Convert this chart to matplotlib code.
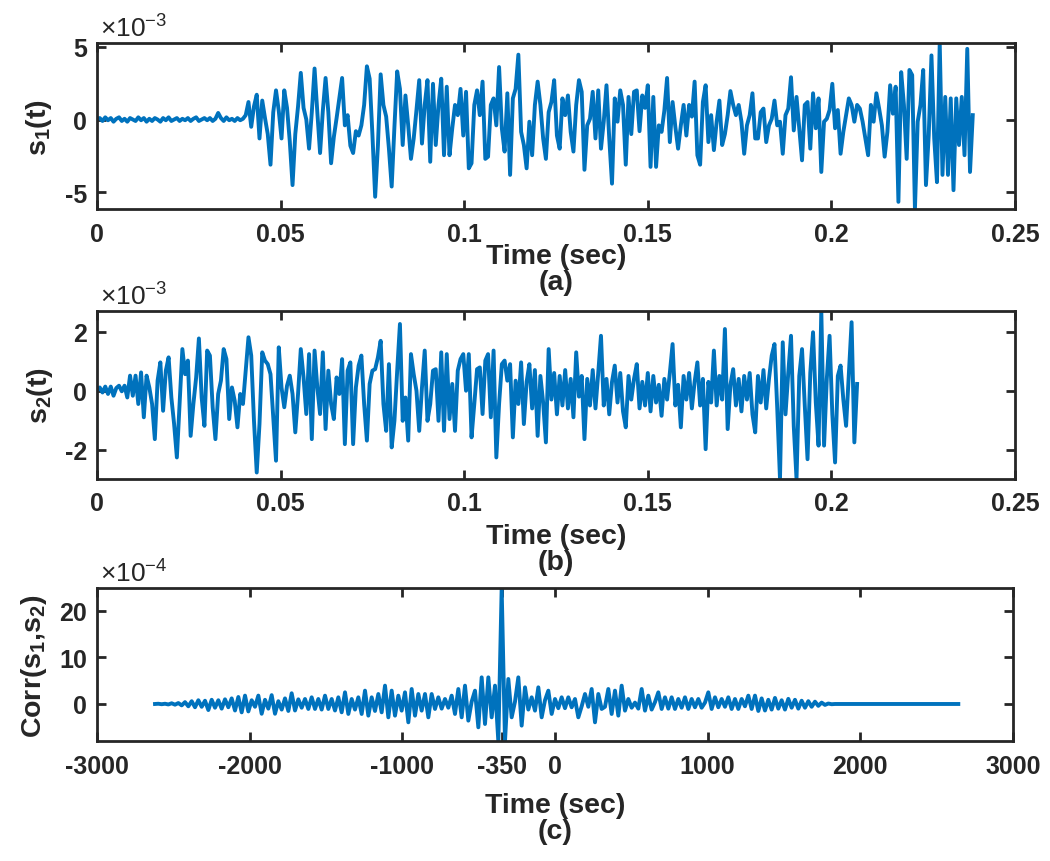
import numpy as np
import matplotlib
matplotlib.use('Agg')
import matplotlib.pyplot as plt
from matplotlib.ticker import FuncFormatter

# ---------------- data ----------------
DT = 0.00075            # sample step of s1 / s2 (sec)
LAG_START = -2620.0     # first lag of the correlation
LAG_STEP = 21.833       # lag step of the correlation

# s1(t), units of 1e-3
s1 = [
    # quiet part (0 .. 0.04 s)
    0.05, 0.1, -0.1, 0.15, -0.05, 0.1, -0.15, 0.05, 0.15, -0.1,
    0.05, -0.15, 0.1, 0.0, -0.1, 0.15, -0.05, 0.1, -0.15, 0.05,
    -0.1, 0.1, 0.0, -0.15, 0.1, -0.05, 0.15, -0.1, 0.0, 0.1,
    -0.1, 0.05, -0.05, 0.1, -0.1, 0.05, 0.15, -0.1, 0.0, 0.1,
    -0.05, 0.1, -0.1, 0.05, 0.45, 0.1, -0.1, 0.15, -0.05, 0.05,
    -0.1, 0.1, -0.05, 0.05,
    # onset
    0.3, 1.2, -0.5, 0.9, 1.7, -1.3, 1.3, 0.1, -1.0, -3.1,
    0.5, 2.0, 0.6, -1.3, 2.0, 0.8, -1.5, -4.5, -1.0, 0.9,
    3.2, 0.8, 0.0, -2.0, 0.5, 3.5, 0.5, -2.3, 0.6, 2.85,
    0.5, -3.0, -1.2, 0.1, 1.5, 2.85, -0.4, 0.3, -1.8, -2.3,
    -0.8, -1.1, -0.4, 1.0, 3.65, 2.8, -1.0, -5.3, -1.8, 3.1,
    1.0, 0.2, -2.0, -4.6, -0.5, 3.3, 2.1, -1.75,
    # middle
    1.65, -0.4, -2.7, -1.3, 0.65, 2.7, -1.65, 1.0, 2.7, -2.9,
    2.45, -1.75, 1.0, 2.8, -2.45, 2.25, -2.45, -0.6, 1.0, 0.3,
    2.1, -1.1, 1.9, -3.35, -3.0, 1.0, 2.0, 0.3, 2.6, -2.7,
    -2.55, 1.0, 1.45, -0.4, 3.6, -0.6, -2.2, 1.8, -3.8, 1.45,
    2.1, 4.45, -0.85, -1.75, -3.35, -0.15, -2.45, 1.0, 2.6, 1.0,
    -1.3, -2.7, 0.5, 1.2, 2.7, -1.1, -2.0, 1.45, 0.3, 1.65,
    -0.85, -2.2, 1.0, 2.7, 1.9, -3.45, -0.4, 0.05, 1.9, -1.3,
    2.0, -2.0, -0.15, 2.35, -1.3, -4.4, 1.45, -0.15, 2.0, 1.0,
    -3.1, 1.55, -1.0, 1.9, 2.0, -0.8, 1.65, 0.8, 2.35, -3.25,
    1.55, -3.25, -0.4, -0.85, 0.6, 2.85, -1.55, 1.2, -0.5, -2.0,
    -0.4, 1.0, -1.1, 1.0, 0.2, 2.6, -2.45, -3.1, 1.2, 2.35,
    -1.55,
    # end
    0.3, -2.1, -0.15, 1.3, -1.75, -1.0, 0.3, 1.95, 1.0, 0.3,
    1.0, -0.15, -2.35, -0.4, 0.3, 1.8, -1.3, -1.3, 0.5, 0.75,
    -1.55, -0.4, 0.05, 1.3, -0.4, -0.15, -2.35, 0.3, 0.75, 2.9,
    -0.75, 1.55, -0.6, -2.8, 1.0, 1.2, -2.0, 1.8, -0.6, 1.45,
    -3.6, -0.15, 0.05, 0.65, 2.45, -0.6, 0.65, -2.35, -0.85, 0.3,
    1.45, 1.0, -0.15, 1.0, 0.75, -0.15, -1.3, -2.45, 1.0, -0.15,
    1.8, 0.75, -0.4, -2.55, -0.85, 2.35, 0.4, 2.25, -5.65, 3.25,
    1.0, -2.7, 3.4, 3.05, -6.14, -0.15, 1.0, 3.4, -4.5, -1.1,
    4.4, -1.3, -4.3, 5.25, -3.8, 1.55, -3.8, 1.45, -4.85, 1.45,
    -1.75, 1.55, -2.45, 4.85, -3.6, 0.3,
]

# s2(t), units of 1e-3
s2 = [
    0.0, 0.11, -0.06, 0.14, -0.11, 0.14, -0.17, 0.09, 0.17, -0.02,
    0.17, -0.23,
    0.51, -0.17, 0.51, -0.45, 0.62, -0.9, 0.51, 0.11, -0.45, -1.64,
    0.34, 0.96, -0.68, 0.68, 1.13, -0.23, -1.13, -2.26, -0.45, 1.41,
    0.56, 1.02, -1.53, -0.45, 0.45, 1.77, -0.23, -1.19, 1.36, 1.19,
    -0.56, -1.64, -0.11, 0.34, 1.41, 1.07, -0.96, 0.11, -0.34, -1.24,
    -0.11, -0.45, 0.68, 1.81, 1.19, -1.02, -2.77, -1.13, 1.3, 1.02,
    0.9, 0.56, -0.9, -2.37, 1.47, 0.11, -0.56, 0.17, 0.51, -0.11,
    -1.41, -0.11, 1.41, 0.45, -0.79, 1.24, -1.64, 1.36, 0.11, -0.79,
    1.3, -1.3, 0.68, -0.45, -0.96, 0.45, -0.11, 1.07, -1.81, 0.68,
    0.96, -1.81, 0.11, 0.85, 1.19, -0.45, -1.69, 0.23, 0.68, 0.73,
    1.13, 1.69, -0.45, -1.36, 0.9, -1.92, -1.02, 0.68, 2.26, -1.02,
    -0.23, -1.69, 1.24, 0.56, 0.0, -1.36, 0.11, 1.36, -1.02, -0.45,
    0.68, 0.73, -1.02, 1.3, -1.36, 1.24, -0.96, 0.23, -1.36, 0.68,
    1.07, 1.24, 0.0, 1.24, -1.58, -0.45, 0.73,
    0.79, -0.79, 1.02, 1.24, -0.9, 1.36, -2.26, -0.45, 0.9, 1.02,
    0.34, 0.9, -1.58, 0.34, -0.45, 0.96, -1.13, 0.3, 0.9, -0.6,
    0.7, -1.53, 0.5, -0.4, -1.75, 1.41, -0.3, 0.6, -0.8, 0.5,
    -0.5, 0.7, -0.6, 0.4, -0.9, 1.3, -0.2, 0.5, -1.64, 0.4,
    -0.5, 0.7, -0.6, 0.6, 1.86, -0.5, 0.4, -0.8, 0.3, 0.85,
    -0.4, 0.6, -0.7, -1.24, 0.5, -0.3, 0.4, 0.9, -0.6, 0.3,
    -0.5, 0.6, -0.7, 0.5, -0.4, 0.2, -0.85, 0.4, -0.3, 0.6,
    1.58, -0.5, 0.2, -1.24, 0.5, -0.3, 0.6, -0.6, 0.3, 0.96,
    -0.5, 0.4, -1.98, 0.3, -0.4, 1.36, -0.5, 0.5, -0.3, 2.09,
    -1.3, 0.2, 0.73, -0.5, 0.4, -0.7, 0.5, -0.3, 0.6, -0.8,
    -1.41, 0.5, -0.4, 0.7, -0.6, 0.4, 1.19, 1.58, -0.6, -2.99,
    1.64, -0.8, 0.6, 1.86, -1.2, -2.99, 0.5, 1.41, -0.5, -2.32,
    0.6, 1.98, -0.4, -1.86, 2.71, -1.86, 0.4, 1.86, -0.8, -2.43,
    0.5, 0.85, -0.3, -1.19, 0.6, 2.32, -1.75, 0.23,
]

# Corr(s1, s2), units of 1e-4
corr = [
    0.0, 0.05, -0.05, 0.05, -0.1, 0.15, -0.15, 0.2, -0.3, 0.4,
    -0.5, 0.6, -0.7, 0.8, -0.6, 0.7, -1.3, 0.9, -0.8, 0.8,
    -1.0, 1.0, -0.7, 1.2, -1.4, 1.5, -1.8, 1.8, -1.6, 0.8,
    -0.6, 1.8, -2.1, 0.9, -1.0, 1.9, -2.1, 0.6, -1.2, 1.2,
    -1.5, 2.3, -1.4, 1.0,
    -0.8, 1.07, -1.07, 1.43, -1.07, 1.07, -1.2, 1.79, -1.07, 1.07,
    -1.4, 1.43, -1.79, 2.5, -2.14, 1.07, -1.2, 1.43, -2.14, 2.86,
    -2.5, 1.43, -1.5, 2.14, -1.79, 3.93, -2.86, 2.86, -2.5, 1.79,
    -1.43, 2.5, -3.93, 3.21, -2.5, 2.14, -1.43, 2.14, -2.86, 2.14,
    -1.07, 1.43, -1.0, 1.07, -0.8, 1.79, -2.14, 3.21, -2.86, 3.93,
    -3.57, 0.5, 2.86, -5.0, 5.71, -4.29, 5.71, -2.86, 3.93, -8.0,
    24.8,
    -8.0, 5.36, -2.86, 0.5, 5.71, -4.64, 3.57, -1.2, 1.43, -1.43,
    3.57, -2.86, 0.8, 2.86, -2.14, 1.07, -0.9, 1.43, -0.9, 1.43,
    -0.71, 1.07, -2.86, -0.5, 2.14, -0.6, 3.21, -3.93, 2.14, -1.07,
    -0.6, 3.21, -2.14, 2.86, -2.5, 3.93, -1.43, 1.07, -0.8, 0.3,
    -1.0, 3.21, -1.43, 1.79, -1.2, 0.4, 2.5, -1.07, 1.43, -1.0,
    1.43, -1.07, 1.07, -0.8, 1.43, -1.07, 1.07, -0.71, 1.07, -0.8,
    0.3, 2.5, -1.07, 1.43, -0.71, 1.07, -0.6, 1.43, -1.07, 1.07,
    -1.07, 1.07, -0.5, 1.79, -1.07,
    1.8, -1.5, 1.2, -1.4, 0.9, -1.2, 1.3, -1.0, 0.8, -1.2,
    1.1, -0.8, 0.9, -1.0, 0.7, -0.8, 0.6, -0.6, 0.5, -0.4,
    0.3, -0.2, 0.1, -0.05,
    0, 0, 0, 0, 0, 0, 0, 0, 0, 0,
    0, 0, 0, 0, 0, 0, 0, 0, 0, 0,
    0, 0, 0, 0, 0, 0, 0, 0, 0, 0,
    0, 0, 0, 0, 0, 0, 0, 0,
]

t_ticks = [0, 0.05, 0.1, 0.15, 0.2, 0.25]
lag_ticks = [-3000, -2000, -1000, -350, 0, 1000, 2000, 3000]
s1_yticks = [-5, 0, 5]
s2_yticks = [-2, 0, 2]
corr_yticks = [0, 10, 20]

# ---------------- style ----------------
plt.rcParams['font.family'] = ['Liberation Sans', 'DejaVu Sans']
plt.rcParams['axes.unicode_minus'] = False

LINE_C = '#0072BD'
DARK = '#262626'
W, H = 1050, 862

fmt = FuncFormatter(lambda v, p: f'{v:g}')


def add_panel(box, x, y, xlim, xticks, yticks, ylabel, xlabel,
              label_y, ylabel_x, exp_txt):
    ax = fig.add_axes(box)
    ax.plot(x, y, color=LINE_C, linewidth=2.8, solid_joinstyle='round')
    ax.set_xlim(xlim)
    ax.set_ylim(min(y), max(y))
    ax.set_xticks(xticks)
    ax.set_yticks(yticks)
    ax.xaxis.set_major_formatter(fmt)
    ax.yaxis.set_major_formatter(fmt)
    ax.tick_params(direction='in', length=6.5, width=2.0, color=DARK,
                   labelcolor=DARK, labelsize=18, top=True, right=True)
    ax.tick_params(axis='x', pad=9)
    ax.tick_params(axis='y', pad=7)
    for lab in ax.get_xticklabels() + ax.get_yticklabels():
        lab.set_fontweight('bold')
    for sp in ax.spines.values():
        sp.set_linewidth(2.0)
        sp.set_color(DARK)
    ax.set_xlabel(xlabel, fontsize=20.5, fontweight='bold', color=DARK,
                  linespacing=1.0)
    ax.xaxis.set_label_coords(0.5, label_y)
    ax.set_ylabel(ylabel, fontsize=20.5, fontweight='bold', color=DARK)
    ax.yaxis.set_label_coords(ylabel_x, 0.5)
    ax.annotate(exp_txt, xy=(0, 1), xycoords='axes fraction',
                xytext=(2, 1), textcoords='offset points',
                ha='left', va='bottom', fontsize=19, color=DARK)
    return ax


fig = plt.figure(figsize=(W / 100, H / 100), dpi=100)

t1 = np.arange(len(s1)) * DT
t2 = np.arange(len(s2)) * DT
lag = LAG_START + np.arange(len(corr)) * LAG_STEP

add_panel([97 / W, 1 - 210 / H, 918 / W, 166 / H], t1, np.array(s1),
          (0, 0.25), t_ticks, s1_yticks,
          r'$\mathregular{s_1(t)}$', 'Time (sec)\n(a)',
          -0.205, -0.047, r'$\mathregular{\times10^{-3}}$')

add_panel([97 / W, 1 - 480 / H, 918 / W, 168.3 / H], t2, np.array(s2),
          (0, 0.25), t_ticks, s2_yticks,
          r'$\mathregular{s_2(t)}$', 'Time (sec)\n(b)',
          -0.262, -0.046, r'$\mathregular{\times10^{-3}}$')

add_panel([97 / W, 1 - 742.3 / H, 916 / W, 153 / H], lag, np.array(corr),
          (-3000, 3000), lag_ticks, corr_yticks,
          r'$\mathregular{Corr(s_1{,}s_2)}$', 'Time (sec)\n(c)',
          -0.33, -0.052, r'$\mathregular{\times10^{-4}}$')

fig.savefig('out.png', dpi=100)
